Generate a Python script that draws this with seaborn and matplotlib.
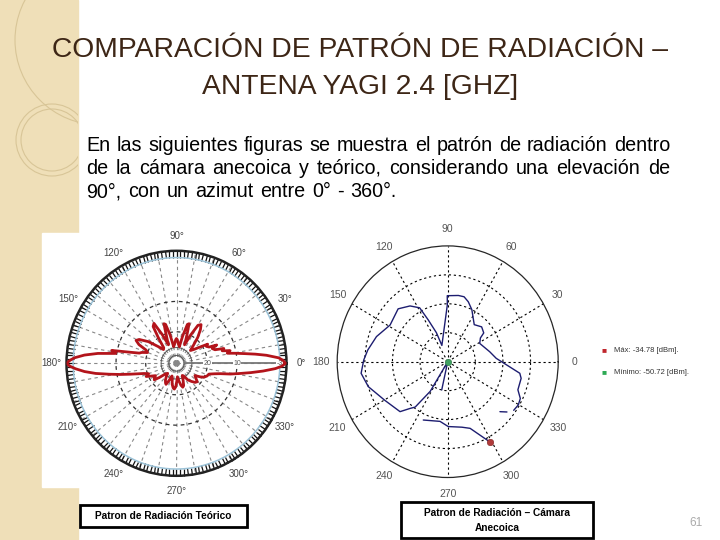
import numpy as np
import pandas as pd
import matplotlib.pyplot as plt
from matplotlib.patches import Rectangle, Ellipse
import seaborn as sns

# Theoretical Yagi pattern (angle in degrees, normalized radius)
teo_ang = [0, 1.5, 3, 5, 6.5, 8, 9.5, 11, 13, 15,
           17, 19, 22, 24, 26, 29, 31, 34, 38, 42,
           46, 50, 54, 57, 60, 63, 66, 69, 72, 74,
           77, 80, 84, 88, 90, 92, 96, 100, 103, 106,
           108, 111, 114, 117, 120, 123, 126, 130, 134, 138,
           143, 148, 151, 154, 157, 160, 163, 165, 167, 169,
           171, 173, 175, 177, 178.5, 180, 181.5, 183, 185, 187,
           189, 191, 193, 195, 197, 200, 203, 206, 210, 213,
           216, 219, 223, 228, 232, 236, 240, 243, 246, 250,
           254, 258, 262, 265, 268, 271, 274, 278, 282, 285,
           288, 292, 296, 300, 305, 310, 315, 319, 323, 327,
           331, 334, 338, 342, 345, 347, 349, 351, 353, 355,
           357, 358.5, 360]
teo_r = [0.99, 0.97, 0.93, 0.82, 0.72, 0.62, 0.54, 0.47, 0.50, 0.43,
         0.45, 0.37, 0.35, 0.40, 0.33, 0.31, 0.33, 0.26, 0.20, 0.17,
         0.22, 0.30, 0.37, 0.41, 0.39, 0.28, 0.18, 0.26, 0.37, 0.36,
         0.25, 0.15, 0.17, 0.21, 0.22, 0.21, 0.17, 0.15, 0.26, 0.36,
         0.37, 0.25, 0.18, 0.29, 0.41, 0.39, 0.28, 0.18, 0.17, 0.22,
         0.32, 0.40, 0.42, 0.38, 0.30, 0.28, 0.33, 0.35, 0.44, 0.60,
         0.56, 0.72, 0.84, 0.93, 0.97, 1.00, 0.97, 0.92, 0.84, 0.74,
         0.62, 0.52, 0.43, 0.36, 0.31, 0.27, 0.30, 0.26, 0.22, 0.24,
         0.25, 0.20, 0.14, 0.12, 0.15, 0.18, 0.20, 0.21, 0.17, 0.12,
         0.14, 0.19, 0.22, 0.23, 0.21, 0.16, 0.12, 0.16, 0.20, 0.22,
         0.21, 0.16, 0.12, 0.13, 0.18, 0.21, 0.24, 0.25, 0.22, 0.20,
         0.25, 0.28, 0.30, 0.31, 0.36, 0.41, 0.50, 0.58, 0.68, 0.79,
         0.90, 0.96, 0.99]

# dB rings of the theoretical chart
teo_ring_r = [0.07, 0.14, 0.28, 0.55, 0.94]
teo_ring_lab = ['40', '30', '20', '10', '-3']

# Anechoic chamber measurement (segments, angle deg, normalized radius)
cam_seg = [0, 0,
           1, 1, 1, 1, 1, 1, 1, 1, 1, 1,
           1, 1, 1, 1, 1, 1, 1, 1, 1, 1,
           1, 1, 1, 1, 1, 1, 1, 1, 1, 1,
           1, 1, 1, 1, 1, 1, 1, 1,
           2, 2, 2, 2, 2, 2]
cam_ang = [-42.4, -39,
           -35.1, -30.3, -25.8, -20.9, -12.2, -8.7, 3.8, 12.7, 28.6, 34.7,
           37.3, 44.4, 53.1, 64.1, 70.2, 75.2, 80.4, 90.4, 90.4, 110.6,
           112.2, 116, 118.6, 125.3, 134.5, 148.7, 161.4, 172, 178.9, 187.3,
           196.7, 210.3, 225, 229.7, 233.1, 238.3, 238.3, 257.5,
           246.3, 262.3, 270.5, 282.8, 289.4, 298.8]
cam_r = [0.64, 0.69,
         0.73, 0.74, 0.73, 0.68, 0.68, 0.66, 0.44, 0.39, 0.33, 0.36,
         0.41, 0.43, 0.40, 0.50, 0.55, 0.58, 0.58, 0.57, 0.49, 0.15,
         0.27, 0.40, 0.53, 0.59, 0.64, 0.61, 0.68, 0.73, 0.76, 0.79,
         0.75, 0.66, 0.61, 0.53, 0.49, 0.30, 0.0, 0.25,
         0.55, 0.52, 0.56, 0.58, 0.61, 0.79]

max_ang, max_r = 298.8, 0.79
min_ang, min_r = 0.0, 0.0

W, H = 720, 540


def box(x, y, w, h):
    # pixel box (top-left origin) -> figure fraction
    return [x / W, 1 - (y + h) / H, w / W, h / H]


sns.set_style('white')
plt.rcParams['font.family'] = ['Liberation Sans', 'DejaVu Sans']

fig = plt.figure(figsize=(7.2, 5.4), dpi=100)

# beige strip on the left with faint circles
strip = Rectangle((0, 0), 78 / W, 1, transform=fig.transFigure, color='#efdfb8', zorder=-3)
fig.add_artist(strip)
for cx, cy, rad in [(100, 40, 85), (52, 140, 36), (52, 140, 31)]:
    e = Ellipse((cx / W, 1 - cy / H), 2 * rad / W, 2 * rad / H, transform=fig.transFigure,
                fill=False, ec='#d8c597', lw=0.8, zorder=-2)
    fig.add_artist(e)
    e.set_clip_path(strip)

# white background of the left picture
fig.add_artist(Rectangle((42 / W, 1 - 487 / H), 258 / W, 254 / H, transform=fig.transFigure,
                         color='white', zorder=-1))

# title
title_kw = dict(ha='center', va='center', fontsize=20.3, color='#3d2616')
fig.text(360 / W, 1 - 50 / H, 'COMPARACIÓN DE PATRÓN DE RADIACIÓN –', **title_kw)
fig.text(360 / W, 1 - 87 / H, 'ANTENA YAGI 2.4 [GHZ]', **title_kw)

# body text, justified
body = ['En las siguientes figuras se muestra el patrón de radiación dentro',
        'de la cámara anecoica y teórico, considerando una elevación de',
        '90°, con un azimut entre 0° - 360°.']
renderer = fig.canvas.get_renderer()
for i, line in enumerate(body):
    y = 151 + 23 * i
    words = line.split()
    texts = [fig.text(0, 1 - y / H, w, fontsize=14.2, va='baseline', color='black') for w in words]
    widths = [t.get_window_extent(renderer).width for t in texts]
    if i == len(body) - 1:
        gap = 6.7
    else:
        gap = (670 - 86 - sum(widths)) / (len(words) - 1)
    x = 86
    for t, w in zip(texts, widths):
        t.set_x(x / W)
        x += w + gap

# ---- left: theoretical pattern
ax1 = fig.add_axes(box(66.5, 250.8, 220, 225), projection='polar')
ax1.set_aspect('auto')
ax1.patch.set_alpha(0)
full = np.linspace(0, 2 * np.pi, 361)
for rr in teo_ring_r:
    if rr > 0.9:
        ax1.plot(full, np.full_like(full, rr), color='#9cc3d8', lw=1.1, zorder=1)
    elif rr > 0.2:
        ax1.plot(full, np.full_like(full, rr), color='#333333', lw=0.9, ls=(0, (3, 3)), zorder=1)
    else:
        ax1.plot(full, np.full_like(full, rr), color='#555555', lw=0.7, zorder=1)
ax1.plot([0, 0], [teo_ring_r[0], 0.9], color='#777777', lw=1.3, zorder=1)

df_teo = pd.DataFrame({'theta': np.deg2rad(teo_ang), 'r': teo_r})
sns.lineplot(data=df_teo, x='theta', y='r', sort=False, estimator=None,
             color='#b3141b', lw=2, ax=ax1, zorder=3)
for rr, lab in zip(teo_ring_r[2:], teo_ring_lab[2:]):
    ax1.text(0, rr, lab, ha='center', va='center', fontsize=5, color='#555555', zorder=2,
             bbox=dict(boxstyle='square,pad=0.05', fc='white', ec='none'))
ax1.set_ylim(0, 1.0)
ax1.set_yticks([])
ax1.set_xticks(np.deg2rad(np.arange(0, 360, 10)))
ax1.set_xticklabels([f'{a}°' if a % 30 == 0 else '' for a in range(0, 360, 10)],
                    fontsize=7, color='#444444')
ax1.set_xticks(np.deg2rad(np.arange(0, 360, 2)), minor=True)
ax1.tick_params(axis='x', which='both', bottom=False, top=True, direction='in',
                length=5, width=0.9, color='#111111', pad=4)
ax1.grid(True, which='major', axis='x', color='#888888', lw=0.8, ls=(0, (3, 3)))
ax1.spines['polar'].set_linewidth(1.8)
ax1.spines['polar'].set_color('#222222')
ax1.set_xlabel('')
ax1.set_ylabel('')

# ---- right: anechoic chamber measurement
ax2 = fig.add_axes(box(337.2, 245.9, 221, 231.6), projection='polar')
ax2.set_aspect('auto')
ax2.patch.set_alpha(0)
df_cam = pd.DataFrame({'theta': np.deg2rad(cam_ang), 'r': cam_r, 'seg': cam_seg})
sns.lineplot(data=df_cam, x='theta', y='r', units='seg', estimator=None, sort=False,
             color='#1d1d70', lw=1, ax=ax2, zorder=3)
sns.scatterplot(x=[np.deg2rad(max_ang)], y=[max_r], color='#b03a3a', s=22, marker='o',
                edgecolor='#7a1f1f', ax=ax2, zorder=4)
sns.scatterplot(x=[np.deg2rad(min_ang)], y=[min_r], color='#3fa060', s=22, marker='o',
                edgecolor='#2a7040', ax=ax2, zorder=4)
ax2.set_ylim(0, 1.0)
ax2.set_yticks([0.25, 0.5, 0.75])
ax2.set_yticklabels([])
ax2.set_xticks(np.deg2rad(np.arange(0, 360, 30)))
ax2.set_xticklabels([str(a) for a in range(0, 360, 30)], fontsize=7.5, color='#555555')
ax2.tick_params(axis='x', length=0, pad=5)
ax2.grid(True, color='black', lw=0.8, ls=(0, (2, 2.5)))
ax2.spines['polar'].set_linewidth(0.9)
ax2.set_xlabel('')
ax2.set_ylabel('')

# legend of max / min
fig.text(604 / W, 1 - 351 / H, '■', color='#c0262d', fontsize=6, ha='center', va='center')
fig.text(614 / W, 1 - 351 / H, 'Máx: -34.78 [dBm].', color='#333333', fontsize=5.5, va='center')
fig.text(604 / W, 1 - 373 / H, '■', color='#2eaa55', fontsize=6, ha='center', va='center')
fig.text(614 / W, 1 - 373 / H, 'Mínimo: -50.72 [dBm].', color='#333333', fontsize=5.5, va='center')

# caption boxes
cap_kw = dict(ha='center', va='center', fontsize=7.3, fontweight='bold', color='black')
fig.add_artist(Rectangle((80 / W, 1 - 527 / H), 167 / W, 22 / H, transform=fig.transFigure,
                         fill=False, ec='black', lw=2))
fig.text(163.5 / W, 1 - 516 / H, 'Patron de Radiación Teórico', **cap_kw)
fig.add_artist(Rectangle((401 / W, 1 - 538 / H), 192 / W, 36 / H, transform=fig.transFigure,
                         fill=False, ec='black', lw=2))
fig.text(497 / W, 1 - 513 / H, 'Patron de Radiación – Cámara', **cap_kw)
fig.text(497 / W, 1 - 528 / H, 'Anecoica', **cap_kw)

fig.text(696 / W, 1 - 523 / H, '61', color='#aaaaaa', fontsize=8.5, ha='center', va='center')

fig.savefig('out.png', dpi=100)
